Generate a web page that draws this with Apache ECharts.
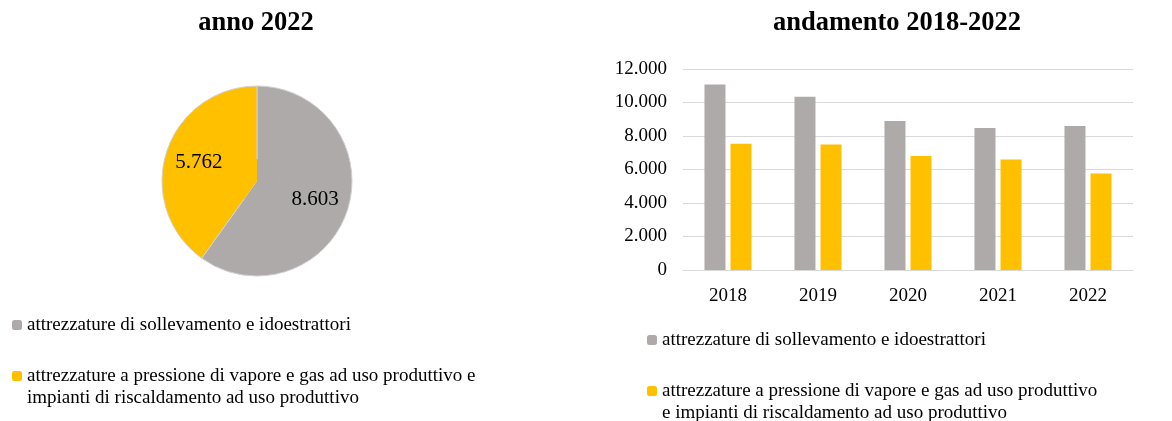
<!DOCTYPE html>
<html>
<head>
<meta charset="utf-8">
<script src="https://cdn.jsdelivr.net/npm/echarts@6/dist/echarts.min.js"></script>
<style>
  html, body { margin: 0; padding: 0; background: #fff; }
  #main { width: 1172px; height: 421px; }
</style>
</head>
<body>
<div id="main"></div>
<script>
// dati
const seriesNames = [
  'attrezzature di sollevamento e idoestrattori',
  'attrezzature a pressione di vapore e gas ad uso produttivo e impianti di riscaldamento ad uso produttivo'
]
const years = ['2018', '2019', '2020', '2021', '2022']
const sollevamento = [11080, 10350, 8900, 8480, 8603]
const pressione = [7540, 7500, 6810, 6590, 5762]
const pie2022 = [8603, 5762]
const colors = ['#AEAAAA', '#FFC000']

// testo della legenda, a capo come nell'originale
// (riga vuota in testa: il quadratino resta all'altezza della prima riga)
const legendLeftText = [
  'attrezzature di sollevamento e idoestrattori',
  '\nattrezzature a pressione di vapore e gas ad uso produttivo e\nimpianti di riscaldamento ad uso produttivo'
]
const legendRightText = [
  'attrezzature di sollevamento e idoestrattori',
  '\nattrezzature a pressione di vapore e gas ad uso produttivo\ne impianti di riscaldamento ad uso produttivo'
]

const font = "'Liberation Serif', 'Times New Roman', serif"

function fmt (v) {
  return String(v).replace(/\B(?=(\d{3})+(?!\d))/g, '.')
}

const pieData = pie2022.map((v, i) => ({ name: seriesNames[i], value: v }))

// una legenda per voce
function legendItem (idx, left, top, texts) {
  return {
    left: left, top: top,
    padding: 0,
    itemWidth: 10, itemHeight: 10,
    textStyle: { fontFamily: font, fontSize: 19, lineHeight: 22, color: '#000' },
    data: [seriesNames[idx]],
    formatter: function () { return texts[idx] }
  }
}

const chart = echarts.init(document.getElementById('main'))
const option = {
  color: colors,
  animation: false,
  textStyle: { fontFamily: font, color: '#000' },
  title: [
    {
      text: 'anno 2022',
      left: 256, top: 10, padding: 0, textAlign: 'center',
      textStyle: { fontFamily: font, fontSize: 26.5, fontWeight: 'bold', color: '#000' }
    },
    {
      text: 'andamento 2018-2022',
      left: 897, top: 10, padding: 0, textAlign: 'center',
      textStyle: { fontFamily: font, fontSize: 26.5, fontWeight: 'bold', color: '#000' }
    }
  ],
  legend: [
    legendItem(0, 12, 314, legendLeftText),
    legendItem(1, 12, 343, legendLeftText),
    legendItem(0, 647, 329, legendRightText),
    legendItem(1, 647, 358, legendRightText)
  ],
  grid: { left: 683, right: 39, top: 69, bottom: 151 },
  xAxis: {
    type: 'category',
    data: years,
    axisTick: { show: false },
    axisLine: { lineStyle: { color: '#D9D9D9', width: 1 } },
    axisLabel: { fontFamily: font, fontSize: 19, color: '#000', margin: 17 }
  },
  yAxis: {
    type: 'value',
    min: 0, max: 12000, interval: 2000,
    axisLine: { show: false },
    axisTick: { show: false },
    splitLine: { lineStyle: { color: '#D9D9D9', width: 1 } },
    axisLabel: { fontFamily: font, fontSize: 19, color: '#000', margin: 16, formatter: fmt }
  },
  series: [
    {
      name: seriesNames[0], type: 'bar', data: sollevamento,
      barWidth: 21, barGap: '24%'
    },
    {
      name: seriesNames[1], type: 'bar', data: pressione,
      barWidth: 21, barGap: '24%'
    },
    {
      // anello con le etichette
      type: 'pie',
      center: [257, 181],
      radius: [21, 95],
      startAngle: 90,
      data: pieData,
      itemStyle: { borderColor: '#d0d0d0', borderWidth: 1 },
      label: {
        position: 'inside',
        fontFamily: font, fontSize: 21, color: '#000',
        formatter: function (p) { return fmt(p.value) }
      },
      labelLine: { show: false },
      emphasis: { disabled: true }
    },
    {
      // riempimento centrale
      type: 'pie',
      center: [257, 181],
      radius: [0, 22],
      startAngle: 90,
      z: 3,
      silent: true,
      data: pieData,
      itemStyle: { borderWidth: 0 },
      label: { show: false },
      labelLine: { show: false },
      emphasis: { disabled: true }
    }
  ]
}
chart.setOption(option)
</script>
</body>
</html>
